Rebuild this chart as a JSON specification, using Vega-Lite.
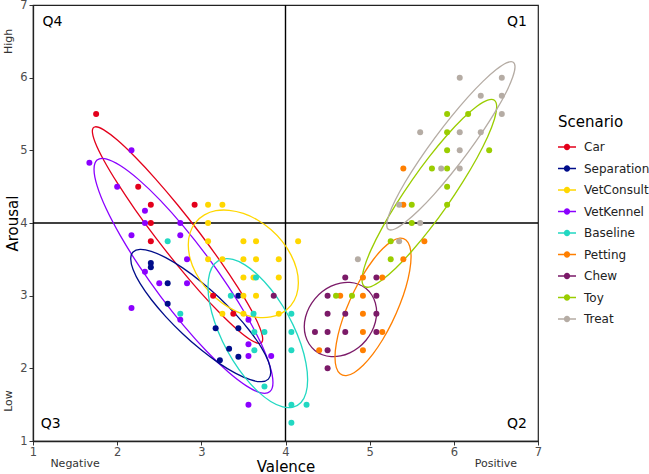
{
  "$schema": "https://vega.github.io/schema/vega-lite/v6.json",
  "width": 505,
  "height": 436,
  "autosize": {"type": "none"},
  "padding": {"left": 33, "top": 5, "right": 111, "bottom": 33},
  "background": "white",
  "config": {
    "font": "DejaVu Sans",
    "view": {"stroke": "#222", "strokeWidth": 1.2},
    "axis": {
      "domainColor": "#222",
      "domainWidth": 1.3,
      "labelColor": "#4d4d4d",
      "labelFontSize": 11.5,
      "labelPadding": 1,
      "tickSize": 4,
      "titleFontSize": 15,
      "titleFontWeight": "normal",
      "titleColor": "#000"
    },
    "axisX": {"titleY": 30.5, "titleBaseline": "alphabetic"},
    "axisY": {"titleX": -21, "titleBaseline": "middle"},
    "legend": {"padding": 0}
  },
  "datasets": {
    "pts": [
      {"s":"Car","x":1.75,"y":5.5},{"s":"Car","x":2.25,"y":4.5},{"s":"Car","x":2.4,"y":4.25},{"s":"Car","x":2.4,"y":4.0},{"s":"Car","x":2.4,"y":3.75},{"s":"Car","x":2.92,"y":4.25},{"s":"Car","x":3.14,"y":3.0},{"s":"Car","x":3.38,"y":2.75},
      {"s":"Separation","x":2.4,"y":3.45},{"s":"Separation","x":2.4,"y":3.39},{"s":"Separation","x":2.6,"y":3.17},{"s":"Separation","x":2.6,"y":2.89},{"s":"Separation","x":3.17,"y":2.55},{"s":"Separation","x":3.22,"y":2.11},{"s":"Separation","x":3.33,"y":2.27},{"s":"Separation","x":3.44,"y":3.0},{"s":"Separation","x":3.44,"y":2.55},{"s":"Separation","x":3.44,"y":2.16},
      {"s":"VetConsult","x":3.08,"y":4.25},{"s":"VetConsult","x":3.25,"y":4.25},{"s":"VetConsult","x":3.08,"y":4.0},{"s":"VetConsult","x":3.08,"y":3.75},{"s":"VetConsult","x":3.5,"y":3.75},{"s":"VetConsult","x":3.65,"y":3.75},{"s":"VetConsult","x":4.15,"y":3.75},{"s":"VetConsult","x":3.08,"y":3.5},{"s":"VetConsult","x":3.25,"y":3.5},{"s":"VetConsult","x":3.5,"y":3.5},{"s":"VetConsult","x":3.65,"y":3.5},{"s":"VetConsult","x":3.92,"y":3.5},{"s":"VetConsult","x":3.5,"y":3.25},{"s":"VetConsult","x":3.62,"y":3.25},{"s":"VetConsult","x":3.92,"y":3.25},{"s":"VetConsult","x":3.5,"y":3.0},{"s":"VetConsult","x":3.65,"y":3.0},{"s":"VetConsult","x":3.25,"y":2.75},{"s":"VetConsult","x":3.5,"y":2.75},{"s":"VetConsult","x":3.92,"y":2.75},
      {"s":"VetKennel","x":1.67,"y":4.83},{"s":"VetKennel","x":2.17,"y":5.0},{"s":"VetKennel","x":2.0,"y":4.5},{"s":"VetKennel","x":2.33,"y":4.17},{"s":"VetKennel","x":2.33,"y":4.0},{"s":"VetKennel","x":2.75,"y":4.0},{"s":"VetKennel","x":2.17,"y":3.83},{"s":"VetKennel","x":2.75,"y":3.83},{"s":"VetKennel","x":2.83,"y":3.5},{"s":"VetKennel","x":2.33,"y":3.33},{"s":"VetKennel","x":2.5,"y":3.17},{"s":"VetKennel","x":2.83,"y":3.17},{"s":"VetKennel","x":2.17,"y":2.83},{"s":"VetKennel","x":2.75,"y":2.67},{"s":"VetKennel","x":3.56,"y":2.67},{"s":"VetKennel","x":3.56,"y":2.33},{"s":"VetKennel","x":3.56,"y":2.17},{"s":"VetKennel","x":3.83,"y":2.17},{"s":"VetKennel","x":3.56,"y":1.5},
      {"s":"Baseline","x":2.6,"y":3.75},{"s":"Baseline","x":2.75,"y":2.75},{"s":"Baseline","x":3.35,"y":3.0},{"s":"Baseline","x":3.65,"y":3.25},{"s":"Baseline","x":3.62,"y":2.75},{"s":"Baseline","x":4.07,"y":2.75},{"s":"Baseline","x":3.63,"y":2.5},{"s":"Baseline","x":3.75,"y":2.5},{"s":"Baseline","x":4.07,"y":2.5},{"s":"Baseline","x":3.63,"y":2.25},{"s":"Baseline","x":4.07,"y":2.25},{"s":"Baseline","x":3.75,"y":1.75},{"s":"Baseline","x":4.07,"y":1.5},{"s":"Baseline","x":4.25,"y":1.5},{"s":"Baseline","x":4.07,"y":1.25},
      {"s":"Petting","x":4.65,"y":3.0},{"s":"Petting","x":4.4,"y":2.25},{"s":"Petting","x":4.92,"y":3.25},{"s":"Petting","x":5.15,"y":3.25},{"s":"Petting","x":5.4,"y":3.5},{"s":"Petting","x":5.65,"y":3.75},{"s":"Petting","x":4.92,"y":3.0},{"s":"Petting","x":4.92,"y":2.75},{"s":"Petting","x":4.92,"y":2.5},{"s":"Petting","x":5.15,"y":2.5},{"s":"Petting","x":4.92,"y":2.25},{"s":"Petting","x":5.4,"y":4.75},{"s":"Petting","x":5.4,"y":4.25},
      {"s":"Chew","x":3.86,"y":3.0},{"s":"Chew","x":4.5,"y":3.0},{"s":"Chew","x":4.5,"y":2.75},{"s":"Chew","x":4.35,"y":2.5},{"s":"Chew","x":4.5,"y":2.5},{"s":"Chew","x":4.5,"y":2.25},{"s":"Chew","x":4.5,"y":2.0},{"s":"Chew","x":4.71,"y":3.25},{"s":"Chew","x":5.08,"y":3.25},{"s":"Chew","x":5.08,"y":3.0},{"s":"Chew","x":4.71,"y":2.75},{"s":"Chew","x":5.08,"y":2.75},{"s":"Chew","x":4.71,"y":2.5},{"s":"Chew","x":5.08,"y":2.5},
      {"s":"Toy","x":4.6,"y":3.0},{"s":"Toy","x":4.79,"y":3.0},{"s":"Toy","x":5.25,"y":3.5},{"s":"Toy","x":5.25,"y":3.75},{"s":"Toy","x":5.5,"y":4.0},{"s":"Toy","x":5.5,"y":4.25},{"s":"Toy","x":5.92,"y":4.25},{"s":"Toy","x":5.92,"y":4.5},{"s":"Toy","x":5.74,"y":4.75},{"s":"Toy","x":5.92,"y":4.75},{"s":"Toy","x":5.92,"y":5.0},{"s":"Toy","x":6.42,"y":5.0},{"s":"Toy","x":5.92,"y":5.25},{"s":"Toy","x":5.92,"y":5.5},{"s":"Toy","x":6.17,"y":5.5},
      {"s":"Treat","x":4.86,"y":3.5},{"s":"Treat","x":5.35,"y":3.75},{"s":"Treat","x":5.6,"y":4.0},{"s":"Treat","x":5.35,"y":4.25},{"s":"Treat","x":5.85,"y":4.75},{"s":"Treat","x":6.07,"y":4.75},{"s":"Treat","x":6.07,"y":5.0},{"s":"Treat","x":5.6,"y":5.25},{"s":"Treat","x":6.07,"y":5.25},{"s":"Treat","x":6.32,"y":5.25},{"s":"Treat","x":6.57,"y":5.5},{"s":"Treat","x":6.32,"y":5.75},{"s":"Treat","x":6.57,"y":5.75},{"s":"Treat","x":6.07,"y":6.0},{"s":"Treat","x":6.57,"y":6.0}
    ],
    "ell": [
      {"s":"Car","i":0,"x":3.729,"y":2.403},{"s":"Car","i":1,"x":3.695,"y":2.344},{"s":"Car","i":2,"x":3.593,"y":2.386},{"s":"Car","i":3,"x":3.432,"y":2.527},{"s":"Car","i":4,"x":3.223,"y":2.757},{"s":"Car","i":5,"x":2.979,"y":3.06},{"s":"Car","i":6,"x":2.717,"y":3.417},{"s":"Car","i":7,"x":2.455,"y":3.802},{"s":"Car","i":8,"x":2.211,"y":4.189},{"s":"Car","i":9,"x":2.002,"y":4.551},{"s":"Car","i":10,"x":1.841,"y":4.864},{"s":"Car","i":11,"x":1.739,"y":5.108},{"s":"Car","i":12,"x":1.705,"y":5.265},{"s":"Car","i":13,"x":1.739,"y":5.324},{"s":"Car","i":14,"x":1.841,"y":5.282},{"s":"Car","i":15,"x":2.002,"y":5.141},{"s":"Car","i":16,"x":2.211,"y":4.911},{"s":"Car","i":17,"x":2.455,"y":4.608},{"s":"Car","i":18,"x":2.717,"y":4.251},{"s":"Car","i":19,"x":2.979,"y":3.866},{"s":"Car","i":20,"x":3.223,"y":3.479},{"s":"Car","i":21,"x":3.432,"y":3.117},{"s":"Car","i":22,"x":3.593,"y":2.804},{"s":"Car","i":23,"x":3.695,"y":2.56},
      {"s":"VetKennel","i":0,"x":3.851,"y":1.806},{"s":"VetKennel","i":1,"x":3.815,"y":1.68},{"s":"VetKennel","i":2,"x":3.709,"y":1.662},{"s":"VetKennel","i":3,"x":3.54,"y":1.755},{"s":"VetKennel","i":4,"x":3.32,"y":1.949},{"s":"VetKennel","i":5,"x":3.063,"y":2.235},{"s":"VetKennel","i":6,"x":2.788,"y":2.592},{"s":"VetKennel","i":7,"x":2.513,"y":2.995},{"s":"VetKennel","i":8,"x":2.256,"y":3.417},{"s":"VetKennel","i":9,"x":2.036,"y":3.829},{"s":"VetKennel","i":10,"x":1.867,"y":4.202},{"s":"VetKennel","i":11,"x":1.761,"y":4.514},{"s":"VetKennel","i":12,"x":1.725,"y":4.74},{"s":"VetKennel","i":13,"x":1.761,"y":4.866},{"s":"VetKennel","i":14,"x":1.867,"y":4.884},{"s":"VetKennel","i":15,"x":2.036,"y":4.791},{"s":"VetKennel","i":16,"x":2.256,"y":4.597},{"s":"VetKennel","i":17,"x":2.513,"y":4.311},{"s":"VetKennel","i":18,"x":2.788,"y":3.954},{"s":"VetKennel","i":19,"x":3.063,"y":3.551},{"s":"VetKennel","i":20,"x":3.32,"y":3.129},{"s":"VetKennel","i":21,"x":3.54,"y":2.717},{"s":"VetKennel","i":22,"x":3.709,"y":2.344},{"s":"VetKennel","i":23,"x":3.815,"y":2.032},
      {"s":"Separation","i":0,"x":3.825,"y":1.946},{"s":"Separation","i":1,"x":3.797,"y":1.852},{"s":"Separation","i":2,"x":3.714,"y":1.816},{"s":"Separation","i":3,"x":3.581,"y":1.843},{"s":"Separation","i":4,"x":3.409,"y":1.93},{"s":"Separation","i":5,"x":3.208,"y":2.072},{"s":"Separation","i":6,"x":2.993,"y":2.258},{"s":"Separation","i":7,"x":2.778,"y":2.476},{"s":"Separation","i":8,"x":2.577,"y":2.712},{"s":"Separation","i":9,"x":2.405,"y":2.947},{"s":"Separation","i":10,"x":2.272,"y":3.168},{"s":"Separation","i":11,"x":2.189,"y":3.36},{"s":"Separation","i":12,"x":2.161,"y":3.508},{"s":"Separation","i":13,"x":2.189,"y":3.602},{"s":"Separation","i":14,"x":2.272,"y":3.638},{"s":"Separation","i":15,"x":2.405,"y":3.611},{"s":"Separation","i":16,"x":2.577,"y":3.524},{"s":"Separation","i":17,"x":2.778,"y":3.382},{"s":"Separation","i":18,"x":2.993,"y":3.196},{"s":"Separation","i":19,"x":3.208,"y":2.978},{"s":"Separation","i":20,"x":3.409,"y":2.742},{"s":"Separation","i":21,"x":3.581,"y":2.507},{"s":"Separation","i":22,"x":3.714,"y":2.286},{"s":"Separation","i":23,"x":3.797,"y":2.094},
      {"s":"VetConsult","i":0,"x":4.153,"y":3.179},{"s":"VetConsult","i":1,"x":4.131,"y":3.008},{"s":"VetConsult","i":2,"x":4.065,"y":2.867},{"s":"VetConsult","i":3,"x":3.961,"y":2.764},{"s":"VetConsult","i":4,"x":3.826,"y":2.707},{"s":"VetConsult","i":5,"x":3.668,"y":2.701},{"s":"VetConsult","i":6,"x":3.499,"y":2.744},{"s":"VetConsult","i":7,"x":3.33,"y":2.835},{"s":"VetConsult","i":8,"x":3.172,"y":2.967},{"s":"VetConsult","i":9,"x":3.037,"y":3.13},{"s":"VetConsult","i":10,"x":2.933,"y":3.315},{"s":"VetConsult","i":11,"x":2.867,"y":3.508},{"s":"VetConsult","i":12,"x":2.845,"y":3.697},{"s":"VetConsult","i":13,"x":2.867,"y":3.868},{"s":"VetConsult","i":14,"x":2.933,"y":4.009},{"s":"VetConsult","i":15,"x":3.037,"y":4.112},{"s":"VetConsult","i":16,"x":3.172,"y":4.169},{"s":"VetConsult","i":17,"x":3.33,"y":4.175},{"s":"VetConsult","i":18,"x":3.499,"y":4.132},{"s":"VetConsult","i":19,"x":3.668,"y":4.041},{"s":"VetConsult","i":20,"x":3.826,"y":3.909},{"s":"VetConsult","i":21,"x":3.961,"y":3.746},{"s":"VetConsult","i":22,"x":4.065,"y":3.561},{"s":"VetConsult","i":23,"x":4.131,"y":3.368},
      {"s":"Baseline","i":0,"x":4.263,"y":1.844},{"s":"Baseline","i":1,"x":4.243,"y":1.659},{"s":"Baseline","i":2,"x":4.184,"y":1.529},{"s":"Baseline","i":3,"x":4.09,"y":1.466},{"s":"Baseline","i":4,"x":3.967,"y":1.47},{"s":"Baseline","i":5,"x":3.824,"y":1.544},{"s":"Baseline","i":6,"x":3.671,"y":1.683},{"s":"Baseline","i":7,"x":3.518,"y":1.876},{"s":"Baseline","i":8,"x":3.375,"y":2.11},{"s":"Baseline","i":9,"x":3.252,"y":2.37},{"s":"Baseline","i":10,"x":3.158,"y":2.637},{"s":"Baseline","i":11,"x":3.099,"y":2.895},{"s":"Baseline","i":12,"x":3.079,"y":3.124},{"s":"Baseline","i":13,"x":3.099,"y":3.309},{"s":"Baseline","i":14,"x":3.158,"y":3.439},{"s":"Baseline","i":15,"x":3.252,"y":3.502},{"s":"Baseline","i":16,"x":3.375,"y":3.498},{"s":"Baseline","i":17,"x":3.518,"y":3.424},{"s":"Baseline","i":18,"x":3.671,"y":3.285},{"s":"Baseline","i":19,"x":3.824,"y":3.092},{"s":"Baseline","i":20,"x":3.967,"y":2.858},{"s":"Baseline","i":21,"x":4.09,"y":2.598},{"s":"Baseline","i":22,"x":4.184,"y":2.331},{"s":"Baseline","i":23,"x":4.243,"y":2.073},
      {"s":"Chew","i":0,"x":5.083,"y":2.771},{"s":"Chew","i":1,"x":5.068,"y":2.638},{"s":"Chew","i":2,"x":5.025,"y":2.507},{"s":"Chew","i":3,"x":4.957,"y":2.387},{"s":"Chew","i":4,"x":4.868,"y":2.287},{"s":"Chew","i":5,"x":4.764,"y":2.213},{"s":"Chew","i":6,"x":4.653,"y":2.17},{"s":"Chew","i":7,"x":4.542,"y":2.161},{"s":"Chew","i":8,"x":4.438,"y":2.187},{"s":"Chew","i":9,"x":4.349,"y":2.247},{"s":"Chew","i":10,"x":4.281,"y":2.335},{"s":"Chew","i":11,"x":4.238,"y":2.446},{"s":"Chew","i":12,"x":4.223,"y":2.573},{"s":"Chew","i":13,"x":4.238,"y":2.706},{"s":"Chew","i":14,"x":4.281,"y":2.837},{"s":"Chew","i":15,"x":4.349,"y":2.957},{"s":"Chew","i":16,"x":4.438,"y":3.057},{"s":"Chew","i":17,"x":4.542,"y":3.131},{"s":"Chew","i":18,"x":4.653,"y":3.174},{"s":"Chew","i":19,"x":4.764,"y":3.183},{"s":"Chew","i":20,"x":4.868,"y":3.157},{"s":"Chew","i":21,"x":4.957,"y":3.097},{"s":"Chew","i":22,"x":5.025,"y":3.009},{"s":"Chew","i":23,"x":5.068,"y":2.898},
      {"s":"Petting","i":0,"x":5.492,"y":3.536},{"s":"Petting","i":1,"x":5.476,"y":3.346},{"s":"Petting","i":2,"x":5.431,"y":3.12},{"s":"Petting","i":3,"x":5.359,"y":2.877},{"s":"Petting","i":4,"x":5.266,"y":2.632},{"s":"Petting","i":5,"x":5.157,"y":2.4},{"s":"Petting","i":6,"x":5.04,"y":2.199},{"s":"Petting","i":7,"x":4.923,"y":2.042},{"s":"Petting","i":8,"x":4.814,"y":1.94},{"s":"Petting","i":9,"x":4.721,"y":1.899},{"s":"Petting","i":10,"x":4.649,"y":1.924},{"s":"Petting","i":11,"x":4.604,"y":2.01},{"s":"Petting","i":12,"x":4.588,"y":2.154},{"s":"Petting","i":13,"x":4.604,"y":2.344},{"s":"Petting","i":14,"x":4.649,"y":2.57},{"s":"Petting","i":15,"x":4.721,"y":2.813},{"s":"Petting","i":16,"x":4.814,"y":3.058},{"s":"Petting","i":17,"x":4.923,"y":3.29},{"s":"Petting","i":18,"x":5.04,"y":3.491},{"s":"Petting","i":19,"x":5.157,"y":3.648},{"s":"Petting","i":20,"x":5.266,"y":3.75},{"s":"Petting","i":21,"x":5.359,"y":3.791},{"s":"Petting","i":22,"x":5.431,"y":3.766},{"s":"Petting","i":23,"x":5.476,"y":3.68},
      {"s":"Toy","i":0,"x":6.509,"y":5.6},{"s":"Toy","i":1,"x":6.482,"y":5.428},{"s":"Toy","i":2,"x":6.402,"y":5.188},{"s":"Toy","i":3,"x":6.275,"y":4.895},{"s":"Toy","i":4,"x":6.109,"y":4.569},{"s":"Toy","i":5,"x":5.916,"y":4.23},{"s":"Toy","i":6,"x":5.709,"y":3.905},{"s":"Toy","i":7,"x":5.502,"y":3.614},{"s":"Toy","i":8,"x":5.309,"y":3.377},{"s":"Toy","i":9,"x":5.143,"y":3.211},{"s":"Toy","i":10,"x":5.016,"y":3.126},{"s":"Toy","i":11,"x":4.936,"y":3.128},{"s":"Toy","i":12,"x":4.909,"y":3.218},{"s":"Toy","i":13,"x":4.936,"y":3.39},{"s":"Toy","i":14,"x":5.016,"y":3.63},{"s":"Toy","i":15,"x":5.143,"y":3.923},{"s":"Toy","i":16,"x":5.309,"y":4.249},{"s":"Toy","i":17,"x":5.502,"y":4.588},{"s":"Toy","i":18,"x":5.709,"y":4.913},{"s":"Toy","i":19,"x":5.916,"y":5.204},{"s":"Toy","i":20,"x":6.109,"y":5.441},{"s":"Toy","i":21,"x":6.275,"y":5.607},{"s":"Toy","i":22,"x":6.402,"y":5.692},{"s":"Toy","i":23,"x":6.482,"y":5.69},
      {"s":"Treat","i":0,"x":6.727,"y":6.151},{"s":"Treat","i":1,"x":6.701,"y":6.012},{"s":"Treat","i":2,"x":6.625,"y":5.807},{"s":"Treat","i":3,"x":6.504,"y":5.553},{"s":"Treat","i":4,"x":6.346,"y":5.265},{"s":"Treat","i":5,"x":6.162,"y":4.962},{"s":"Treat","i":6,"x":5.965,"y":4.667},{"s":"Treat","i":7,"x":5.768,"y":4.398},{"s":"Treat","i":8,"x":5.584,"y":4.175},{"s":"Treat","i":9,"x":5.426,"y":4.013},{"s":"Treat","i":10,"x":5.305,"y":3.921},{"s":"Treat","i":11,"x":5.229,"y":3.908},{"s":"Treat","i":12,"x":5.203,"y":3.973},{"s":"Treat","i":13,"x":5.229,"y":4.112},{"s":"Treat","i":14,"x":5.305,"y":4.317},{"s":"Treat","i":15,"x":5.426,"y":4.571},{"s":"Treat","i":16,"x":5.584,"y":4.859},{"s":"Treat","i":17,"x":5.768,"y":5.162},{"s":"Treat","i":18,"x":5.965,"y":5.457},{"s":"Treat","i":19,"x":6.162,"y":5.726},{"s":"Treat","i":20,"x":6.346,"y":5.949},{"s":"Treat","i":21,"x":6.504,"y":6.111},{"s":"Treat","i":22,"x":6.625,"y":6.203},{"s":"Treat","i":23,"x":6.701,"y":6.216}
    ],
    "quad": [
      {"q":"Q4","x":1.23,"y":6.77},{"q":"Q1","x":6.75,"y":6.77},{"q":"Q3","x":1.21,"y":1.23},{"q":"Q2","x":6.75,"y":1.23}
    ],
    "xnote": [{"t":"Negative","x":1.5,"y":0.69},{"t":"Positive","x":6.5,"y":0.69}],
    "ynote": [{"t":"High","x":0.71,"y":6.5},{"t":"Low","x":0.71,"y":1.55}]
  },
  "layer": [
    {
      "data": {"values": [{}]},
      "mark": {"type": "rule", "color": "#000", "strokeWidth": 1.4},
      "encoding": {
        "x": {"datum": 4, "type": "quantitative", "title": "Valence", "scale": {"domain": [1, 7], "nice": false, "zero": false},
          "axis": {"values": [1,1.5,2,2.5,3,3.5,4,4.5,5,5.5,6,6.5,7], "labelExpr": "datum.value % 1 === 0 ? format(datum.value, 'd') : ''", "labelFlush": false, "labelOverlap": false,
            "gridColor": {"condition": {"test": "datum.value % 1 === 0", "value": "#e4e4e4"}, "value": "#f1f1f1"},
            "tickColor": {"condition": {"test": "datum.value % 1 === 0", "value": "#333"}, "value": "transparent"}}}
      }
    },
    {
      "data": {"values": [{}]},
      "mark": {"type": "rule", "color": "#000", "strokeWidth": 1.4},
      "encoding": {
        "y": {"datum": 4, "type": "quantitative", "title": "Arousal", "scale": {"domain": [1, 7], "nice": false, "zero": false},
          "axis": {"values": [1,1.5,2,2.5,3,3.5,4,4.5,5,5.5,6,6.5,7], "labelExpr": "datum.value % 1 === 0 ? format(datum.value, 'd') : ''", "labelFlush": false, "labelOverlap": false, "labelPadding": 2,
            "gridColor": {"condition": {"test": "datum.value % 1 === 0", "value": "#e4e4e4"}, "value": "#f1f1f1"},
            "tickColor": {"condition": {"test": "datum.value % 1 === 0", "value": "#333"}, "value": "transparent"}}}
      }
    },
    {
      "data": {"name": "ell"},
      "mark": {"type": "line", "interpolate": "cardinal-closed", "strokeWidth": 1.3},
      "encoding": {
        "x": {"field": "x", "type": "quantitative", "title": "Valence", "scale": {"domain": [1, 7], "nice": false, "zero": false}},
        "y": {"field": "y", "type": "quantitative", "title": "Arousal", "scale": {"domain": [1, 7], "nice": false, "zero": false}},
        "order": {"field": "i", "type": "quantitative"},
        "color": {"field": "s", "type": "nominal", "title": "Scenario",
          "scale": {"domain": ["Car","Separation","VetConsult","VetKennel","Baseline","Petting","Chew","Toy","Treat"],
                    "range": ["#e3001b","#000d8a","#ffd700","#8b00ff","#22d8c2","#ff7f00","#7b1a68","#9acd00","#b5aca4"]},
          "legend": {"orient": "none", "legendX": 525, "legendY": 110,
            "symbolType": "M -1 -0.08 L 1 -0.08 L 1 0.08 L -1 0.08 Z M 0.35 0 A 0.35 0.35 0 1 1 -0.35 0 A 0.35 0.35 0 1 1 0.35 0 Z",
            "symbolSize": 324, "symbolStrokeWidth": 0, "symbolOpacity": 1,
            "titleFontSize": 15, "titleFontWeight": "normal", "titleColor": "#000", "titlePadding": 8,
            "labelFontSize": 12, "labelColor": "#222", "labelOffset": 8, "rowPadding": 6.5,
            "encode": {"symbols": {"update": {"fill": {"scale": "color", "field": "value"}, "strokeWidth": {"value": 0}}}}}}
      }
    },
    {
      "data": {"name": "pts"},
      "mark": {"type": "circle", "size": 36, "opacity": 1},
      "encoding": {
        "x": {"field": "x", "type": "quantitative", "title": "Valence", "scale": {"domain": [1, 7], "nice": false, "zero": false}},
        "y": {"field": "y", "type": "quantitative", "title": "Arousal", "scale": {"domain": [1, 7], "nice": false, "zero": false}},
        "color": {"field": "s", "type": "nominal", "title": "Scenario",
          "legend": {"orient": "none", "legendX": 525, "legendY": 110,
            "symbolType": "M -1 -0.08 L 1 -0.08 L 1 0.08 L -1 0.08 Z M 0.35 0 A 0.35 0.35 0 1 1 -0.35 0 A 0.35 0.35 0 1 1 0.35 0 Z",
            "symbolSize": 324, "symbolStrokeWidth": 0, "symbolOpacity": 1,
            "titleFontSize": 15, "titleFontWeight": "normal", "titleColor": "#000", "titlePadding": 8,
            "labelFontSize": 12, "labelColor": "#222", "labelOffset": 8, "rowPadding": 6.5,
            "encode": {"symbols": {"update": {"fill": {"scale": "color", "field": "value"}, "strokeWidth": {"value": 0}}}}}}
      }
    },
    {
      "data": {"name": "quad"},
      "mark": {"type": "text", "fontSize": 14, "color": "#000", "align": "center", "baseline": "middle"},
      "encoding": {
        "x": {"field": "x", "type": "quantitative", "title": "Valence", "scale": {"domain": [1, 7], "nice": false, "zero": false}},
        "y": {"field": "y", "type": "quantitative", "title": "Arousal", "scale": {"domain": [1, 7], "nice": false, "zero": false}},
        "text": {"field": "q"}
      }
    },
    {
      "data": {"name": "xnote"},
      "mark": {"type": "text", "fontSize": 11, "color": "#333", "align": "center", "baseline": "middle", "clip": false},
      "encoding": {
        "x": {"field": "x", "type": "quantitative", "title": "Valence", "scale": {"domain": [1, 7], "nice": false, "zero": false}},
        "y": {"field": "y", "type": "quantitative", "title": "Arousal", "scale": {"domain": [1, 7], "nice": false, "zero": false}},
        "text": {"field": "t"}
      }
    },
    {
      "data": {"name": "ynote"},
      "mark": {"type": "text", "fontSize": 11, "color": "#333", "align": "center", "baseline": "middle", "angle": 270, "clip": false},
      "encoding": {
        "x": {"field": "x", "type": "quantitative", "title": "Valence", "scale": {"domain": [1, 7], "nice": false, "zero": false}},
        "y": {"field": "y", "type": "quantitative", "title": "Arousal", "scale": {"domain": [1, 7], "nice": false, "zero": false}},
        "text": {"field": "t"}
      }
    }
  ]
}
